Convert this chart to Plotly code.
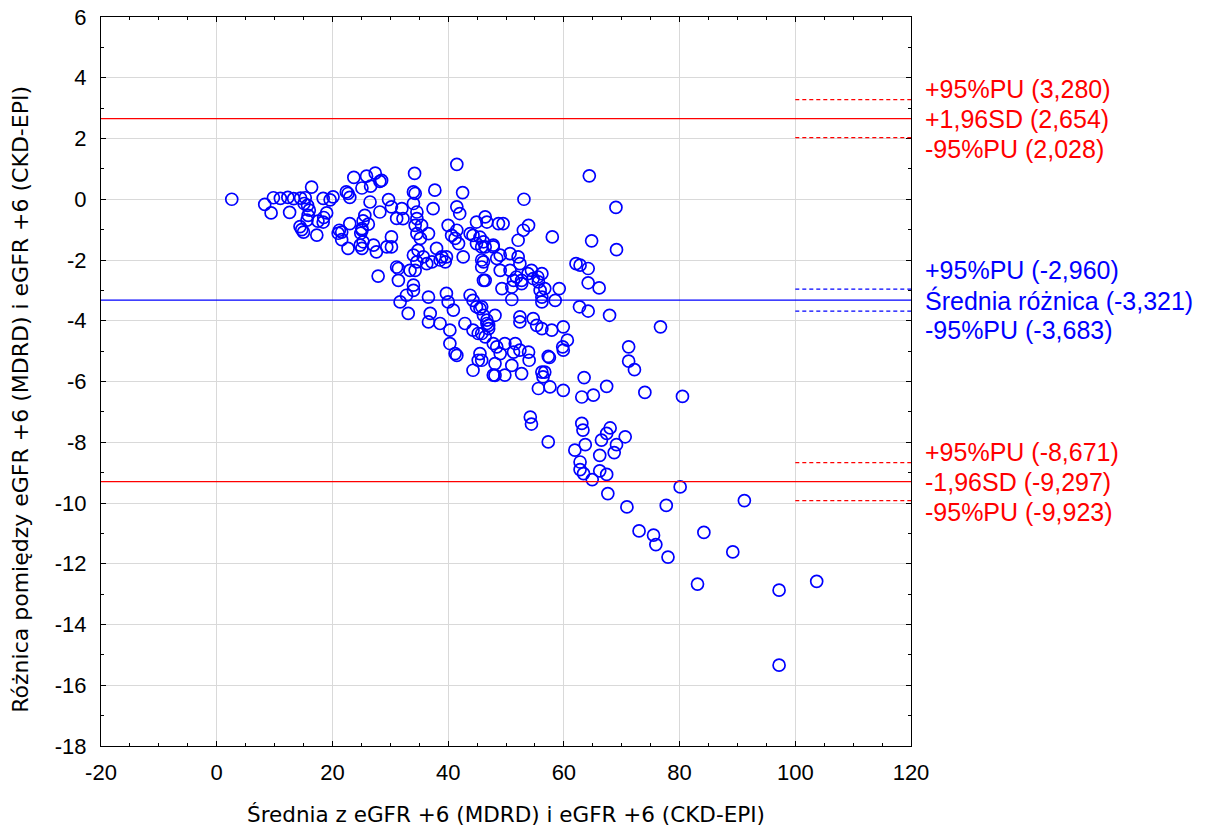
import plotly.graph_objects as go

# Bland-Altman: mean of the two eGFR estimates vs. their difference
mean_egfr = [
    2.6, 8.3, 9.4, 9.8, 11.0, 12.3, 13.3, 14.5, 15.3, 12.6, 16.4, 16.0, 15.8, 15.6, 14.4, 14.7,
    15.0, 17.3, 17.5, 18.5, 19.0, 18.4, 19.6, 20.1, 15.1, 15.7, 18.4,
    22.4, 22.7, 23.0, 23.7, 25.9, 27.4, 28.2, 26.6, 25.1, 23.0, 21.2, 21.6, 21.6, 22.7, 25.6,
    25.3, 26.2, 25.1, 24.9, 24.8, 25.1, 27.1, 27.6, 28.2, 30.2, 29.7, 26.5, 29.4, 30.2, 30.2,
    31.1, 31.1, 27.9, 28.5, 25.1, 25.3, 21.0, 32.0, 32.2,
    34.2, 41.5, 37.7, 42.5, 34.0, 34.3, 34.0, 37.4, 41.5, 34.6, 34.6, 34.3, 35.4, 34.6, 35.2,
    36.6, 34.8, 34.0, 38.0, 38.9, 38.6, 39.5, 39.7, 35.7, 36.3, 37.2, 34.6, 34.3, 33.4, 31.4,
    31.4, 34.0, 34.0, 32.8, 31.7, 33.1, 40.0, 40.6, 41.2, 42.0, 41.5, 41.8, 42.6,
    43.8, 44.3, 44.9, 44.9, 45.8, 45.8, 46.4, 46.1, 47.8, 48.4, 48.7, 49.0, 46.7, 49.5, 53.0,
    53.9, 52.1, 46.1, 46.4, 47.8, 49.0, 50.7, 52.1, 46.1, 45.8, 50.7, 52.4, 54.4, 56.2, 54.7,
    52.7, 51.3, 49.3, 46.4, 51.0, 52.7, 55.6, 56.7, 56.2, 56.2, 58.5, 51.0, 55.9, 55.5, 53.8,
    51.8, 53.1, 45.5,
    36.6, 36.9, 36.6, 38.6, 39.7, 40.0, 40.9, 40.3, 40.3, 41.2, 41.5, 42.9, 43.8, 44.3, 44.9,
    45.8, 46.1, 46.7, 47.0, 44.3, 45.2, 45.8, 46.4, 47.8, 48.4, 48.1, 48.1, 45.5, 45.2, 45.8,
    44.3, 45.5, 48.1, 46.7, 47.0, 52.4, 52.4, 54.7, 55.3, 56.2, 57.9, 59.9, 60.6, 59.8, 59.9,
    57.3, 57.5, 49.8, 51.6, 49.0, 51.3, 52.4, 53.9, 54.0, 51.0, 49.8, 52.7, 47.8, 56.2, 56.7,
    56.4, 55.6,
    69.0, 58.0, 64.8, 69.1, 64.4, 62.1, 62.8, 64.2, 64.2, 66.1, 59.2, 62.7, 64.2, 67.9, 76.7,
    71.2, 71.2, 72.2, 63.5, 57.6, 59.9, 63.1, 65.1, 67.4, 74.0, 80.5,
    54.2, 54.4, 57.3, 63.1, 63.3, 68.0, 67.4, 66.5, 70.6, 63.7, 69.1, 61.9, 68.7, 66.2, 62.8,
    62.8, 63.4, 66.2, 67.4, 64.9, 67.6, 80.1, 70.9, 77.7, 73.0, 75.5, 75.9, 78.0, 84.2, 89.2,
    83.1, 103.7, 97.2, 97.2, 91.2,
]
diff_egfr = [
    0.0, -0.17, -0.45, 0.05, 0.03, 0.06, 0.02, 0.04, 0.05, -0.43, 0.4, -0.36, -0.53, -0.69, -0.9, -1.0,
    -1.08, -1.18, -0.72, -0.6, -0.45, 0.03, -0.02, 0.08, -0.14, -0.2, -0.75,
    0.24, 0.19, 0.06, 0.72, 0.76, 0.86, 0.59, 0.43, 0.37, -0.8, -1.02, -1.08, -1.33, -1.62, -0.53,
    -0.71, -0.82, -1.02, -1.12, -1.51, -1.62, -1.51, -1.73, -0.42, -0.25, -0.01, -0.09, -1.57, -1.57, -1.24,
    -0.63, -2.23, -2.53, 0.62, -0.97, -1.4, -1.12, -0.31, -0.64,
    0.85, 1.15, 0.3, 0.22, 0.24, 0.19, -0.14, -0.31, -0.25, -0.42, -0.64, -0.86, -0.86, -1.13, -1.29,
    -1.13, -1.68, -1.84, -1.62, -1.9, -2.0, -2.06, -1.9, -1.9, -2.12, -2.06, -2.06, -2.34, -2.34, -2.28,
    -2.67, -2.83, -3.0, -3.16, -3.38, -3.76, -0.86, -1.19, -1.29, -0.47, -1.02, -1.46, -1.9,
    -1.13, -1.19, -0.75, -1.46, -1.57, -2.0, -0.58, -2.67, -1.51, -1.95, -0.8, -2.34, -0.75, -0.8, -1.02,
    -0.86, -1.35, -1.4, -1.57, -1.57, -1.84, -1.79, -1.9, -2.06, -2.23, -2.34, -2.12, -2.34, -2.45, -2.61,
    -2.67, -2.67, -2.94, -2.67, -2.89, -2.78, -2.72, -2.94, -3.22, -3.38, -3.33, -3.3, -3.0, -2.56, -2.45,
    -2.56, 0.0, -1.25,
    -3.22, -3.76, -4.04, -4.09, -3.1, -3.38, -3.65, -4.31, -4.75, -5.08, -5.14, -4.09, -3.16, -3.33, -3.54,
    -3.54, -3.82, -3.98, -4.15, -4.31, -4.42, -4.42, -4.53, -4.75, -4.86, -5.41, -5.8, -5.08, -5.3, -5.3,
    -5.63, -3.6, -3.82, -4.09, -4.26, -3.87, -4.04, -3.93, -4.15, -4.26, -4.31, -4.2, -4.64, -4.86, -4.97,
    -5.17, -5.21, -4.75, -4.75, -5.08, -5.03, -4.97, -5.03, -5.3, -5.47, -5.79, -5.74, -5.79, -5.69, -5.69,
    -5.85, -6.23,
    -0.27, -1.24, -1.37, -1.66, 0.77, -2.12, -2.17, -2.28, -2.75, -2.92, -2.94, -3.54, -3.68, -3.82, -4.2,
    -4.86, -5.33, -5.61, -5.87, -6.18, -6.29, -6.51, -6.45, -6.16, -6.36, -6.49,
    -7.17, -7.4, -7.99, -7.38, -7.6, -7.53, -7.71, -7.93, -7.82, -8.08, -8.08, -8.26, -8.34, -8.43, -8.65,
    -8.9, -9.03, -8.94, -9.06, -9.23, -9.69, -9.47, -10.13, -10.08, -10.92, -11.06, -11.37, -11.78, -10.97, -11.61,
    -12.67, -12.58, -12.87, -15.34, -9.92,
]

# Agreement statistics
mean_diff = -3.321
mean_diff_ci = [-2.960, -3.683]
upper_loa = 2.654
upper_loa_ci = [3.280, 2.028]
lower_loa = -9.297
lower_loa_ci = [-8.671, -9.923]

# Reference-line labels (upper CI, line, lower CI)
upper_labels = ["+95%PU (3,280)", "+1,96SD (2,654)", "-95%PU (2,028)"]
mean_labels = ["+95%PU (-2,960)", "Średnia różnica (-3,321)", "-95%PU (-3,683)"]
lower_labels = ["+95%PU (-8,671)", "-1,96SD (-9,297)", "-95%PU (-9,923)"]

x_title = "Średnia z eGFR +6 (MDRD) i eGFR +6 (CKD-EPI)"
y_title = "Różnica pomiędzy eGFR +6 (MDRD) i eGFR +6 (CKD-EPI)"

x_range = [-20, 120]
y_range = [-18, 6]
x_ticks = [-20, 0, 20, 40, 60, 80, 100, 120]
x_ticktext = ["-20", "0", "20", "40", "60", "80", "100", "120"]
y_ticks = [-18, -16, -14, -12, -10, -8, -6, -4, -2, 0, 2, 4, 6]
y_ticktext = ["-18", "-16", "-14", "-12", "-10", "-8", "-6", "-4", "-2", "0", "2", "4", "6"]
ci_x_start = 100

RED = "#ff0000"
BLUE = "#0000ff"
TICK_FONT = "Liberation Sans, Arial, sans-serif"
TEXT_FONT = "Liberation Sans, Arial, sans-serif"
TITLE_FONT = "DejaVu Sans, Liberation Sans, sans-serif"

fig = go.Figure()
fig.add_trace(go.Scatter(
    x=mean_egfr, y=diff_egfr, mode="markers",
    marker=dict(symbol="circle-open", size=12, color=BLUE, line=dict(width=1.7, color=BLUE)),
    showlegend=False, cliponaxis=True,
))

shapes = []
for val, col in [(upper_loa, RED), (mean_diff, BLUE), (lower_loa, RED)]:
    shapes.append(dict(type="line", xref="x", yref="y", x0=x_range[0], x1=x_range[1],
                       y0=val, y1=val, line=dict(color=col, width=1.4)))
for vals, col in [(upper_loa_ci, RED), (mean_diff_ci, BLUE), (lower_loa_ci, RED)]:
    for v in vals:
        shapes.append(dict(type="line", xref="x", yref="y", x0=ci_x_start, x1=x_range[1],
                           y0=v, y1=v, line=dict(color=col, width=1.3, dash="4px,3px")))

annotations = []
for center, labels, col in [(upper_loa, upper_labels, RED),
                            (mean_diff, mean_labels, BLUE),
                            (lower_loa, lower_labels, RED)]:
    for lab, shift in zip(labels, [30, 0, -30]):
        annotations.append(dict(xref="paper", yref="y", x=1, y=center, xanchor="left",
                                yanchor="middle", xshift=12, yshift=shift, text=lab,
                                showarrow=False, font=dict(family=TEXT_FONT, size=25, color=col)))

# Vertical axis title, placed beside the tick labels
annotations.append(dict(xref="paper", yref="paper", x=0, y=0.475, xanchor="center",
                        yanchor="middle", xshift=-80, textangle=-90, text=y_title,
                        showarrow=False, font=dict(family=TITLE_FONT, size=22, color="black")))

axis_common = dict(
    showline=True, linecolor="black", linewidth=1, mirror="ticks",
    showgrid=True, gridcolor="#d9d9d9", gridwidth=1, zeroline=False,
    ticks="inside", ticklen=5, tickcolor="black", tickwidth=1,
    tickfont=dict(family=TICK_FONT, size=22, color="black"),
    automargin=False,
)

fig.update_layout(
    width=1214, height=831,
    margin=dict(l=101, r=303, t=17, b=85),
    paper_bgcolor="white", plot_bgcolor="white",
    shapes=shapes, annotations=annotations,
    xaxis=dict(range=x_range, tickvals=x_ticks, ticktext=x_ticktext,
               minor=dict(dtick=5, tick0=0, ticks="inside", ticklen=3, tickcolor="black", showgrid=False),
               title=dict(text=x_title,
                          font=dict(family=TITLE_FONT, size=21.5, color="black"), standoff=22),
               ticklabelstandoff=7,
               **axis_common),
    yaxis=dict(range=y_range, tickvals=y_ticks, ticktext=y_ticktext,
               minor=dict(dtick=1, tick0=0, ticks="inside", ticklen=3, tickcolor="black", showgrid=False),
               ticklabelstandoff=9,
               **axis_common),
)

fig.write_html("out.html")
